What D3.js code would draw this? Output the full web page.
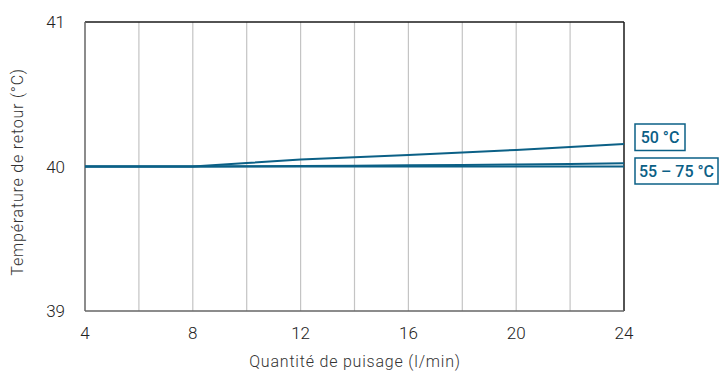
<!DOCTYPE html>
<html>
<head>
<meta charset="utf-8">
<script src="https://cdn.jsdelivr.net/npm/d3@7"></script>
<style>
  html, body { margin: 0; padding: 0; background: #fff; }
  svg { display: block; font-family: "Roboto", "DejaVu Sans", sans-serif; }
</style>
</head>
<body>
<svg id="chart" width="719" height="372"></svg>
<script>
// Flow rate (l/min) and return temperature (°C) per supply temperature
const flowRates   = [4, 6, 8, 10, 12, 14, 16, 18, 20, 22, 24];
const series50    = [40.0, 40.0, 40.0, 40.024, 40.048, 40.064, 40.08, 40.097, 40.115, 40.135, 40.155];
const series55    = [40.0, 40.0, 40.0, 40.002, 40.004, 40.006, 40.008, 40.011, 40.014, 40.018, 40.022];
const series75    = [40.0, 40.0, 40.0, 40.0, 40.0, 40.0, 40.0, 40.0, 40.0, 40.0, 40.0];
const xTicks      = [4, 8, 12, 16, 20, 24];
const xGrid       = [6, 8, 10, 12, 14, 16, 18, 20, 22];
const yTicks      = [39, 40, 41];
const seriesLabels = ["50 °C", "55 – 75 °C"];

const svg = d3.select("#chart");
const m = { left: 85, right: 624, top: 22, bottom: 311 };
const blue = "#0b6086";

const x = d3.scaleLinear().domain([4, 24]).range([m.left, m.right]);
const y = d3.scaleLinear().domain([39, 41]).range([m.bottom, m.top]);

// vertical grid
svg.append("g").selectAll("line").data(xGrid).join("line")
  .attr("x1", d => x(d)).attr("x2", d => x(d))
  .attr("y1", m.top).attr("y2", m.bottom)
  .attr("stroke", "#c4c4c4").attr("stroke-width", 1.2);

// frame: top/right black, left/bottom grey
svg.append("line").attr("x1", m.left).attr("x2", m.right).attr("y1", m.top).attr("y2", m.top)
  .attr("stroke", "#1a1a1a").attr("stroke-width", 1.5);
svg.append("line").attr("x1", m.right).attr("x2", m.right).attr("y1", m.top).attr("y2", m.bottom)
  .attr("stroke", "#1a1a1a").attr("stroke-width", 1.5);
svg.append("line").attr("x1", m.left).attr("x2", m.left).attr("y1", m.top).attr("y2", m.bottom)
  .attr("stroke", "#666").attr("stroke-width", 1.5);
svg.append("line").attr("x1", m.left).attr("x2", m.right).attr("y1", m.bottom).attr("y2", m.bottom)
  .attr("stroke", "#666").attr("stroke-width", 1.5);

// tick labels
svg.append("g").selectAll("text").data(xTicks).join("text")
  .attr("x", d => x(d)).attr("y", 339)
  .attr("text-anchor", "middle").attr("font-size", 17).attr("font-weight", 300).attr("fill", "#222")
  .text(d => d);
svg.append("g").selectAll("text").data(yTicks).join("text")
  .attr("x", 65).attr("y", d => y(d) + 6)
  .attr("text-anchor", "end").attr("font-size", 17).attr("font-weight", 300).attr("fill", "#222")
  .text(d => d);

// axis titles
svg.append("text").attr("x", 355).attr("y", 367)
  .attr("text-anchor", "middle").attr("font-size", 16).attr("font-weight", 300)
  .attr("letter-spacing", 0.8).attr("fill", "#333")
  .text("Quantité de puisage (l/min)");
svg.append("text")
  .attr("transform", "translate(23,172) rotate(-90)")
  .attr("text-anchor", "middle").attr("font-size", 16).attr("font-weight", 300)
  .attr("letter-spacing", 0.8).attr("fill", "#333")
  .text("Température de retour (°C)");

// curves
const line = d3.line().x((d, i) => x(flowRates[i])).y(d => y(d));
[series75, series55, series50].forEach(s => {
  svg.append("path").datum(s).attr("d", line)
    .attr("fill", "none").attr("stroke", blue).attr("stroke-width", 2);
});

// series labels
const boxes = [
  { text: seriesLabels[0], x: 635, y: 124, w: 50, h: 26.5 },
  { text: seriesLabels[1], x: 635, y: 158, w: 83, h: 26 }
];
boxes.forEach(b => {
  svg.append("rect").attr("x", b.x).attr("y", b.y).attr("width", b.w).attr("height", b.h)
    .attr("fill", "#fff").attr("stroke", blue).attr("stroke-width", 1.5);
  svg.append("text").attr("x", b.x + b.w / 2).attr("y", b.y + b.h / 2 + 6)
    .attr("text-anchor", "middle").attr("font-size", 16).attr("font-weight", 500)
    .attr("fill", blue).text(b.text);
});
</script>
</body>
</html>
